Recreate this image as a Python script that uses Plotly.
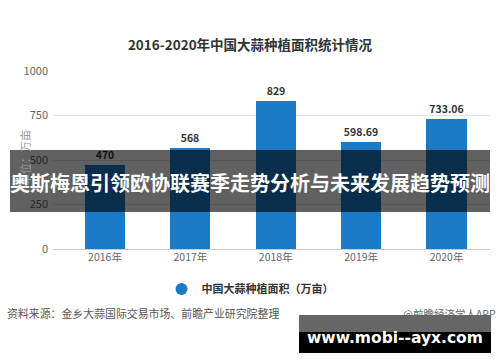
import plotly.graph_objects as go

years = ["2016年", "2017年", "2018年", "2019年", "2020年"]
areas = [470, 568, 829, 598.69, 733.06]
area_labels = ["470", "568", "829", "598.69", "733.06"]
y_ticks = [0, 250, 500, 750, 1000]

BLUE = "#1a7ac6"
FONT = "Noto Sans CJK SC"

W, H = 500, 362
L, R, T, B = 53, 10, 71, 113
PW, PH = W - L - R, H - T - B

def px_x(px):
    return (px - L) / PW

def px_y(py):
    return (H - B - py) / PH

fig = go.Figure()
fig.add_trace(go.Bar(
    x=list(range(len(years))), y=areas, width=0.47,
    marker=dict(color=BLUE, line=dict(width=0)),
    text=area_labels, textposition="outside", cliponaxis=False,
    textfont=dict(family=FONT, size=10.5, color="#333333", weight="bold"),
    showlegend=False,
))
fig.add_trace(go.Scatter(
    x=[None], y=[None], mode="markers", name="中国大蒜种植面积（万亩）",
    marker=dict(symbol="circle", size=11, color=BLUE),
))

fig.update_layout(
    width=W, height=H,
    margin=dict(l=L, r=R, t=T, b=B, autoexpand=False),
    paper_bgcolor="white", plot_bgcolor="white",
    font=dict(family=FONT),
    bargap=0,
    title=dict(text="2016-2020年中国大蒜种植面积统计情况", x=0.5, xanchor="center",
               y=1 - 45 / H, yanchor="middle",
               font=dict(family=FONT, size=13.5, color="#333333", weight="bold")),
    xaxis=dict(range=[-0.609, 4.509], tickmode="array", tickvals=list(range(len(years))),
               ticktext=years, showgrid=False, zeroline=False, showline=False,
               ticks="", tickfont=dict(family=FONT, size=10.5, color="#666666")),
    yaxis=dict(range=[0, 1000], tickmode="array", tickvals=y_ticks,
               ticktext=[str(v) for v in y_ticks], showgrid=True, gridcolor="#e3e3e3",
               gridwidth=1, zeroline=True, zerolinecolor="#cccccc", zerolinewidth=1,
               showline=False, ticks="", ticklabelstandoff=4,
               tickfont=dict(family=FONT, size=11, color="#666666")),
    legend=dict(orientation="h", x=px_x(250), xanchor="center", y=px_y(289), yanchor="middle",
                font=dict(family=FONT, size=11, color="#333333", weight="bold"),
                itemsizing="constant", bgcolor="rgba(0,0,0,0)"),
)

# y-axis unit title
fig.add_annotation(text="单位：万亩", xref="paper", yref="paper", x=px_x(15), y=px_y(158),
                   textangle=-90, showarrow=False,
                   font=dict(family=FONT, size=11, color="#999999"))

# source notes
fig.add_annotation(text="资料来源：金乡大蒜国际交易市场、前瞻产业研究院整理", xref="paper", yref="paper",
                   x=px_x(5), y=px_y(313), xanchor="left", yanchor="middle", showarrow=False,
                   font=dict(family=FONT, size=10.9, color="#555555"))
fig.add_annotation(text="@前瞻经济学人APP", xref="paper", yref="paper",
                   x=px_x(498), y=px_y(313), xanchor="right", yanchor="middle", showarrow=False,
                   font=dict(family=FONT, size=10.5, color="#666666"))

# overlay banner
fig.add_shape(type="rect", xref="paper", yref="paper", x0=px_x(10), x1=px_x(490),
              y0=px_y(212), y1=px_y(150), fillcolor="rgba(0,0,0,0.62)", line=dict(width=0),
              layer="above")
fig.add_annotation(text="奥斯梅恩引领欧协联赛季走势分析与未来发展趋势预测", xref="paper", yref="paper",
                   x=px_x(250), y=px_y(182), xanchor="center", yanchor="middle", showarrow=False,
                   font=dict(family=FONT, size=20, color="white", weight="bold"))

# bottom url banner
fig.add_shape(type="rect", xref="paper", yref="paper", x0=px_x(299), x1=px_x(491),
              y0=px_y(332), y1=px_y(315), fillcolor="rgba(0,0,0,0.6)", line=dict(width=0),
              layer="above")
fig.add_shape(type="rect", xref="paper", yref="paper", x0=px_x(299), x1=px_x(491),
              y0=px_y(353), y1=px_y(332), fillcolor="black", line=dict(width=0),
              layer="above")
fig.add_annotation(text="www.mobi--ayx.com", xref="paper", yref="paper",
                   x=px_x(395), y=px_y(338), xanchor="center", yanchor="middle", showarrow=False,
                   font=dict(family="DejaVu Sans", size=15.5, color="white", weight="bold"))

fig.write_html("out.html")
